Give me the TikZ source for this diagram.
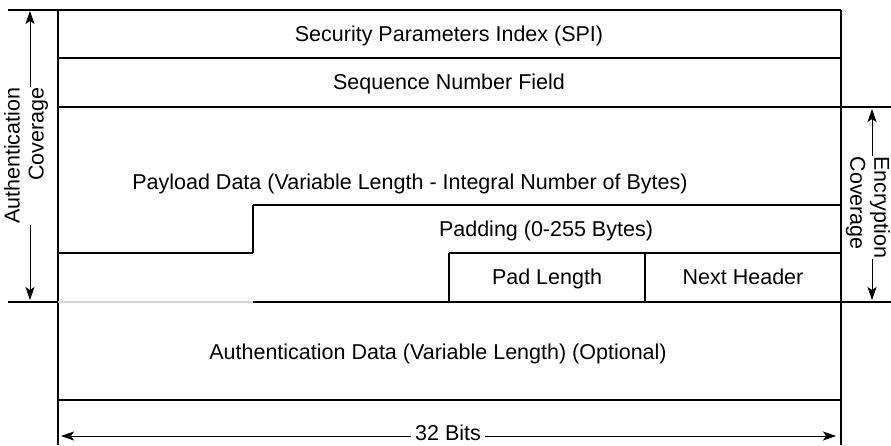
\documentclass[tikz,border=0pt]{standalone}
\usepackage{fontspec}
\setmainfont{Liberation Sans}
\usetikzlibrary{arrows.meta,positioning}

\begin{document}
\begin{tikzpicture}
[x=1pt,y=-1pt,>={Stealth[length=13pt,width=9pt,inset=3pt]},line width=1.3pt,
field/.style = {font=\fontsize{21.5}{24}\selectfont, inner sep = 1pt, text height = 19pt, text depth = 4pt},
side/.style = {font=\fontsize{21.5}{24}\selectfont, fill = white, inner sep = 1pt},
span/.style = {<->, line width = 0.9pt},]
\useasboundingbox (0,0) rectangle (891,445);
% frame
\draw (8,10)--(841,10);
\draw (58,10)--(58,445);
\draw (841,10)--(841,445);
\draw (58,58)--(841,58);
\draw (58,107)--(891,107);
\draw (253,205)--(841,205);
\draw (253,205)--(253,253);
\draw (58,253)--(253,253);
\draw (449,253)--(841,253);
\draw (449,253)--(449,302);
\draw (645,253)--(645,302);
\draw (8,302)--(58,302);
\draw[color=blue!15!gray!30] (58,302)--(253,302);
\draw (253,302)--(891,302);
\draw (58,400)--(841,400);
% fields
\node (spi) at (449,34)[field] {Security Parameters Index (SPI)};
\node (seq) at (449,82)[field] {Sequence Number Field};
\node (pay) at (410,182)[field] {Payload Data (Variable Length - Integral Number of Bytes)};
\node (pad) at (546,229)[field] {Padding (0-255 Bytes)};
\node (padlen) at (547,277)[field] {Pad Length};
\node (next) at (743,277)[field] {Next Header};
\node (auth) at (438,352)[field] {Authentication Data (Variable Length) (Optional)};
% coverage
\coordinate (at) at (30,11);
\coordinate (ab) at (30,300);
\draw[span] (at)--(ab);
\node (acov) at (26,86)[side,rotate=90,anchor=east,align=right] {Authentication\\Coverage};
\coordinate (et) at (872,109);
\coordinate (eb) at (872,300);
\draw[span] (et)--(eb);
\node (ecov) at (868,155)[side,rotate=-90,anchor=west,align=left] {Encryption\\Coverage};
% width
\coordinate (wl) at (61,436);
\coordinate (wr) at (836,436);
\draw[span] (wl)--(wr);
\node (bits) at (448,434)[field,fill=white,inner sep=4pt,text height=15pt,text depth=2pt] {32 Bits};
\end{tikzpicture}
\end{document}
